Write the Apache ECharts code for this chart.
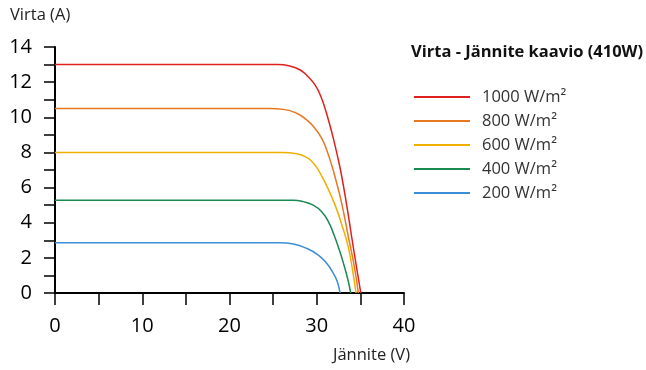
<!DOCTYPE html>
<html>
<head>
<meta charset="utf-8">
<script src="https://cdn.jsdelivr.net/npm/echarts@6/dist/echarts.min.js"></script>
<style>html,body{margin:0;padding:0;background:#fff}#c{width:646px;height:370px}</style>
</head>
<body>
<div id="c"></div>
<script>
var seriesNames = ['1000 W/m²', '800 W/m²', '600 W/m²', '400 W/m²', '200 W/m²'];
var seriesColors = ['#E0201E', '#E87722', '#F0B000', '#1A8A50', '#3C8DD8'];
var curve1000 = [[0,13.0],[12,13.0],[25.5,13.0],[26.9,12.92],[28.1,12.69],[29.0,12.31],[29.8,11.84],[30.4,11.27],[30.95,10.5],[31.45,9.65],[31.9,8.8],[32.35,7.85],[32.8,6.8],[33.4,5.1],[34.0,3.2],[34.5,1.65],[35.05,0]];
var curve800 = [[0,10.5],[12,10.5],[24.6,10.5],[26.2,10.45],[27.7,10.23],[28.85,9.85],[29.8,9.37],[30.57,8.8],[31.14,8.14],[31.71,7.28],[32.15,6.5],[32.86,5.1],[33.62,3.2],[34.27,1.6],[34.77,0]];
var curve600 = [[0,8.0],[12,8.0],[26.0,8.0],[27.7,7.93],[28.85,7.72],[29.6,7.4],[30.3,6.9],[31.14,6.1],[32.1,5.0],[32.86,3.9],[33.62,2.6],[34.1,1.3],[34.5,0]];
var curve400 = [[0,5.28],[12,5.28],[27.3,5.28],[28.46,5.2],[29.6,5.0],[30.57,4.63],[31.33,4.06],[31.98,3.3],[32.59,2.45],[33.12,1.59],[33.58,0.74],[33.89,0]];
var curve200 = [[0,2.86],[12,2.86],[25.8,2.86],[27.32,2.79],[28.85,2.54],[30.18,2.16],[31.14,1.69],[31.9,1.12],[32.36,0.64],[32.67,0]];
var curves = [curve1000, curve800, curve600, curve400, curve200];
var xMin = 0, xMax = 40, xStep = 5, xLabelStep = 10;
var yMin = 0, yMax = 14, yStep = 1, yLabelStep = 2;
var titleText = 'Virta - Jännite kaavio (410W)';
var yName = 'Virta (A)';
var xName = 'Jännite (V)';

var chart = echarts.init(document.getElementById('c'), null, {renderer: 'canvas'});
var FONT = '"Open Sans", "Noto Sans", sans-serif';
chart.setOption({
  animation: false,
  title: {
    text: titleText, left: 406, top: 39,
    textStyle: {fontFamily: FONT, fontSize: 16.5, fontWeight: 'bold', color: '#111'}
  },
  legend: {
    orient: 'vertical', left: 409, top: 82,
    itemWidth: 56, itemHeight: 2, itemGap: 4,
    icon: 'rect',
    data: seriesNames,
    textStyle: {fontFamily: FONT, fontSize: 16.5, color: '#333', padding: [0,0,0,7], lineHeight: 20}
  },
  grid: {left: 55, right: 242, top: 47, bottom: 77, containLabel: false},
  graphic: [
    {type: 'text', left: 10, top: 7, style: {text: yName, font: '16.5px ' + FONT, fill: '#222'}},
    {type: 'text', left: 333, top: 347, style: {text: xName, font: '16.5px ' + FONT, fill: '#222'}}
  ],
  xAxis: {
    type: 'value', min: xMin, max: xMax, interval: xStep,
    axisLine: {show: true, onZero: false, lineStyle: {color: '#000', width: 2}},
    axisTick: {show: true, length: 12, lineStyle: {color: '#000', width: 1.5}},
    splitLine: {show: false},
    axisLabel: {
      margin: 23, fontFamily: FONT, fontSize: 20, color: '#000',
      formatter: function (v) { return v % xLabelStep === 0 ? String(v) : ''; }
    }
  },
  yAxis: {
    type: 'value', min: yMin, max: yMax, interval: yStep,
    axisLine: {show: true, onZero: false, lineStyle: {color: '#000', width: 2}},
    axisTick: {show: true, length: 11, lineStyle: {color: '#000', width: 1.5}},
    splitLine: {show: false},
    axisLabel: {
      margin: 23, fontFamily: FONT, fontSize: 20, color: '#000',
      formatter: function (v) { return v % yLabelStep === 0 ? String(v) : ''; }
    }
  },
  series: curves.map(function (d, i) {
    return {
      name: seriesNames[i], type: 'line', data: d,
      smooth: 0.5, showSymbol: false, symbol: 'none',
      lineStyle: {color: seriesColors[i], width: 1.5},
      itemStyle: {color: seriesColors[i]}
    };
  })
});
</script>
</body>
</html>
